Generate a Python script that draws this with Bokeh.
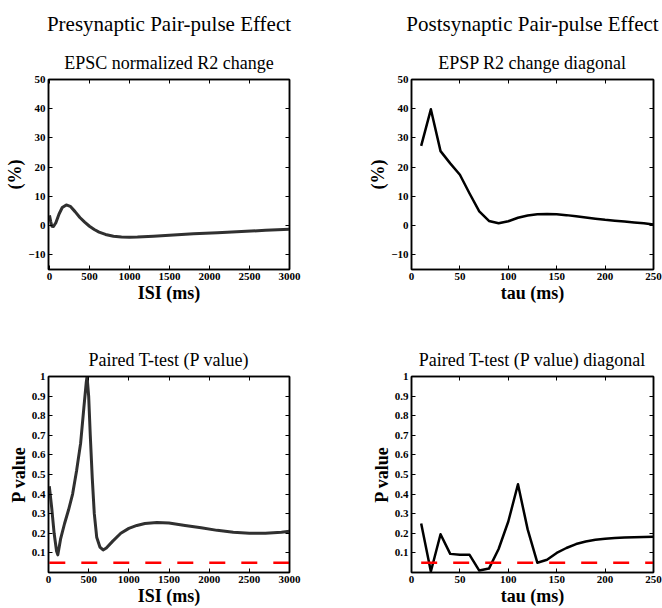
from bokeh.plotting import figure
from bokeh.layouts import column, row
from bokeh.models import Title, LinearAxis, FixedTicker, Range1d
from bokeh.embed import file_html
from bokeh.resources import INLINE

# ---------------- data ----------------
isi_r2 = [0, 15, 30, 50, 80, 120, 160, 210, 260, 320, 380, 440, 500, 560, 620,
          700, 800, 900, 1000, 1100, 1300, 1500, 1800, 2100, 2400, 2700, 3000]
r2_epsc = [3.5, 1.5, -0.2, -0.3, 1.0, 4.0, 6.2, 7.1, 6.6, 4.8, 2.8, 1.2, -0.2, -1.3, -2.2,
           -3.0, -3.6, -3.85, -3.95, -3.9, -3.6, -3.3, -2.8, -2.4, -2.0, -1.6, -1.2]

tau_r2 = [10, 20, 30, 40, 50, 60, 70, 80, 90, 100, 110, 120, 130, 140, 150, 160,
          170, 180, 190, 200, 210, 220, 230, 240, 250]
r2_epsp = [27.3, 39.8, 25.5, 21.3, 17.4, 11.0, 4.9, 1.6, 0.8, 1.5, 2.7, 3.5, 3.9, 4.0, 3.9, 3.6,
           3.2, 2.8, 2.4, 2.0, 1.7, 1.4, 1.1, 0.8, 0.4]

isi_p = [10, 40, 70, 100, 116, 150, 200, 250, 300, 350, 400, 440, 470, 480, 500, 520, 545,
         570, 600, 640, 680, 720, 800, 900, 1000, 1100, 1200, 1350, 1500, 1700, 1900, 2100,
         2300, 2500, 2700, 2900, 3000]
p_epsc = [0.44, 0.33, 0.2, 0.11, 0.09, 0.17, 0.25, 0.32, 0.4, 0.52, 0.66, 0.84, 0.97, 1.0, 0.9,
          0.7, 0.48, 0.3, 0.18, 0.13, 0.115, 0.125, 0.16, 0.2, 0.225, 0.24, 0.25, 0.255, 0.252,
          0.24, 0.228, 0.215, 0.205, 0.2, 0.2, 0.205, 0.21]

tau_p = [10, 20, 30, 40, 50, 60, 70, 80, 90, 100, 110, 120, 130, 140, 150, 160, 170, 180,
         190, 200, 210, 220, 230, 240, 250]
p_epsp = [0.25, 0.005, 0.195, 0.095, 0.09, 0.09, 0.01, 0.02, 0.12, 0.26, 0.45, 0.22, 0.05,
          0.065, 0.10, 0.125, 0.145, 0.158, 0.167, 0.172, 0.176, 0.178, 0.18, 0.181, 0.182]

alpha_level = 0.05
isi_alpha = [10, 3000]
tau_alpha = [10, 250]

r2_yticks = [-10, 0, 10, 20, 30, 40, 50]
isi_ticks = [0, 500, 1000, 1500, 2000, 2500, 3000]
tau_ticks = [0, 50, 100, 150, 200, 250]
p_ticks = [0.1, 0.2, 0.3, 0.4, 0.5, 0.6, 0.7, 0.8, 0.9, 1]
p_labels = {0.1: "0.1", 0.2: "0.2", 0.3: "0.3", 0.4: "0.4", 0.5: "0.5", 0.6: "0.6",
            0.7: "0.7", 0.8: "0.8", 0.9: "0.9", 1: "1"}

FONT = "Liberation Serif"


def style_axis(ax, ticks, show_labels=True):
    ax.ticker = FixedTicker(ticks=ticks)
    ax.major_tick_in = 4
    ax.major_tick_out = 0
    ax.major_tick_line_width = 1
    ax.minor_tick_line_color = None
    ax.axis_line_width = 1.5
    ax.axis_line_color = "black"
    ax.major_label_text_font = FONT
    ax.major_label_text_font_style = "bold"
    if show_labels:
        ax.major_label_text_color = "black"
        ax.major_label_text_font_size = "11px"
        ax.major_label_standoff = 3
        ax.axis_label_text_font = FONT
        ax.axis_label_text_font_style = "bold"
        ax.axis_label_text_font_size = "18px"
        ax.axis_label_text_color = "black"
        ax.axis_label_standoff = 0
    else:
        ax.major_label_text_color = None
        ax.major_label_text_font_size = "1px"
        ax.major_label_standoff = 0


def make_fig(width, height, mbl, mbr, mbt, mbb, xr, yr, xticks, yticks, title, xlabel, ylabel,
             super_title=None, super_offset=0):
    p = figure(width=width, height=height, output_backend="svg", toolbar_location=None,
               x_range=Range1d(*xr), y_range=Range1d(*yr),
               min_border_left=mbl, min_border_right=mbr,
               min_border_top=mbt, min_border_bottom=mbb,
               background_fill_color="white", border_fill_color="white")
    p.grid.visible = False
    p.outline_line_color = "black"
    p.outline_line_width = 1.5
    style_axis(p.xaxis[0], xticks)
    style_axis(p.yaxis[0], yticks)
    p.xaxis[0].axis_label = xlabel
    p.yaxis[0].axis_label = ylabel
    top = LinearAxis()
    style_axis(top, xticks, show_labels=False)
    p.add_layout(top, "above")
    rt = LinearAxis()
    style_axis(rt, yticks, show_labels=False)
    p.add_layout(rt, "right")
    sub = Title(text=title, text_font=FONT, text_font_style="normal", text_font_size="18px",
                text_color="black", align="center", standoff=13)
    p.add_layout(sub, "above")
    if super_title is not None:
        p.title.text = super_title
        p.title.text_font = FONT
        p.title.text_font_style = "normal"
        p.title.text_font_size = "21px"
        p.title.text_color = "black"
        p.title.align = "center"
        p.title.standoff = 18
        p.title.offset = super_offset
    return p


# top-left
p1 = make_fig(331, 305, 48, 42, 78, 33, (-12, 3000), (-15, 50), isi_ticks, r2_yticks,
              "EPSC normalized R2 change", "ISI (ms)", "(%)",
              super_title="Presynaptic Pair-pulse Effect")
p1.line(isi_r2, r2_epsc, line_color="#303030", line_width=3, line_join="round")

# top-right
p2 = make_fig(331, 305, 80, 9, 78, 33, (0, 250), (-15, 50), tau_ticks, r2_yticks,
              "EPSP R2 change diagonal", "tau (ms)", "(%)",
              super_title="Postsynaptic Pair-pulse Effect", super_offset=-5)
p2.line(tau_r2, r2_epsp, line_color="black", line_width=2.5, line_join="round")

# bottom-left
p3 = make_fig(331, 303, 48, 42, 71, 34, (0, 3000), (0, 1), isi_ticks, p_ticks,
              "Paired T-test (P value)", "ISI (ms)", "P value")
p3.yaxis[0].major_label_overrides = p_labels
p3.line(isi_p, p_epsc, line_color="#303030", line_width=3, line_join="round")
p3.line(isi_alpha, [alpha_level] * len(isi_alpha), line_color="red", line_width=2.5,
        line_dash="16 16")

# bottom-right
p4 = make_fig(331, 303, 80, 9, 71, 34, (0, 250), (0, 1), tau_ticks, p_ticks,
              "Paired T-test (P value) diagonal", "tau (ms)", "P value")
p4.yaxis[0].major_label_overrides = p_labels
p4.line(tau_p, p_epsp, line_color="black", line_width=2.5, line_join="round")
p4.line(tau_alpha, [alpha_level] * len(tau_alpha), line_color="red", line_width=2.5,
        line_dash="16 16")

layout = column(row(p1, p2), row(p3, p4))
open("out.html", "w").write(file_html(layout, INLINE))
